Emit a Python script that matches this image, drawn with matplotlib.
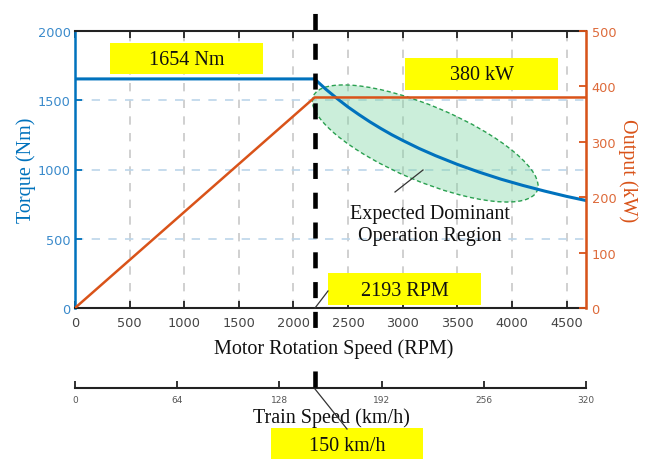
import matplotlib.pyplot as plt
from matplotlib.patches import Ellipse, Rectangle
from matplotlib.lines import Line2D
from matplotlib.transforms import ScaledTranslation, blended_transform_factory

# Motor characteristic
speed_rpm = [0, 2193, 2300, 2400, 2500, 2600, 2700, 2800, 2900, 3000, 3150, 3300, 3500,
             3700, 3900, 4100, 4300, 4500, 4678]
torque_nm = [1654, 1654, 1577, 1512, 1451, 1396, 1344, 1296, 1251, 1210, 1152, 1100, 1037,
             981, 930, 885, 844, 806, 776]
power_speed = [0, 2193, 4678]
power_kw = [0, 380, 380]

base_speed = 2193
base_train_speed = 150
rpm_ticks = [0, 500, 1000, 1500, 2000, 2500, 3000, 3500, 4000, 4500]
train_ticks = [0, 64, 128, 192, 256, 320]

blue = '#0072BD'
orange = '#D95319'
W, H = 651, 460


def fx(x):
    return x / W


def fy(y):
    return 1 - y / H


fig = plt.figure(figsize=(W / 100, H / 100), dpi=100)
left, right, top, bottom = 75, 586, 32, 309
ax = fig.add_axes([fx(left), fy(bottom), fx(right - left), (bottom - top) / H])
ax2 = ax.twinx()

# grid: grey verticals, light blue horizontals
ax.set_axisbelow(True)
ax.grid(axis='x', color='#c8c8c8', linestyle=(0, (5, 5)), linewidth=1.2)
ax.grid(axis='y', color='#bcd6ea', linestyle=(0, (5, 5)), linewidth=1.2)

ax.plot(speed_rpm, torque_nm, color=blue, linewidth=2.2, zorder=3)
ax2.plot(power_speed, power_kw, color=orange, linewidth=1.8, zorder=3)

ax.set_xlim(0, 4678)
ax.set_ylim(0, 2000)
ax2.set_ylim(0, 500)
ax.set_xticks(rpm_ticks)
ax.set_yticks([0, 500, 1000, 1500, 2000])
ax2.set_yticks([0, 100, 200, 300, 400, 500])

ax.tick_params(axis='x', direction='in', top=True, length=5, width=1.3, color='#222222',
               labelcolor='#444444', labelsize=9.3, pad=6)
ax.tick_params(axis='y', direction='in', length=5, width=1.3, color=blue,
               labelcolor='#3a8acb', labelsize=9.3, pad=3)
ax2.tick_params(axis='y', direction='in', length=5, width=1.3, color=orange,
                labelcolor='#dd6a3a', labelsize=9.3, pad=4)

for s in ['top', 'bottom']:
    ax.spines[s].set_color('#222222')
    ax.spines[s].set_linewidth(1.5)
ax.spines['left'].set_color(blue)
ax.spines['left'].set_linewidth(1.8)
ax2.spines['right'].set_color(orange)
ax2.spines['right'].set_linewidth(1.8)
ax2.spines['left'].set_visible(False)
ax2.spines['top'].set_visible(False)
ax2.spines['bottom'].set_visible(False)

serif = 'Liberation Serif'
fs = 14.5
ax.set_ylabel('Torque (Nm)', family=serif, fontsize=fs, color=blue)
ax.yaxis.set_label_coords((36 - left) / (right - left), 0.5)
ax2.set_ylabel('Output (kW)', family=serif, fontsize=fs, color=orange, rotation=270,
               va='center')
ax2.yaxis.set_label_coords((628 - left) / (right - left), 0.5)

# expected dominant operation region
region_tf = fig.dpi_scale_trans + ScaledTranslation(3206, 1188, ax.transData)
ax.add_patch(Ellipse((0, 0), width=2.43, height=0.75, angle=-22.9, transform=region_tf,
                     facecolor='#7fd6a4', alpha=0.4, edgecolor='none', zorder=2))
ax.add_patch(Ellipse((0, 0), width=2.43, height=0.75, angle=-22.9, transform=region_tf,
                     facecolor='none', edgecolor='#2aa050', linestyle=(0, (3, 2)),
                     linewidth=1.0, zorder=2.5))
ax.text(3251, 606, 'Expected Dominant\nOperation Region', family=serif, fontsize=fs,
        ha='center', va='center', linespacing=1.22, color='#111111', zorder=4)

# train speed axis underneath
ax3 = fig.add_axes([fx(left), fy(389), fx(right - left), 1e-5])
ax3.patch.set_visible(False)
for s in ['top', 'left', 'right']:
    ax3.spines[s].set_visible(False)
ax3.spines['bottom'].set_linewidth(1.5)
ax3.spines['bottom'].set_color('#222222')
ax3.set_yticks([])
ax3.set_xlim(0, 320)
ax3.set_xticks(train_ticks)
ax3.tick_params(axis='x', direction='in', length=5, width=1.3, color='#222222',
                labelcolor='#555555', labelsize=6.5, pad=5)

# axis titles below the plot sit on a white ground over the base speed marker
fig.text(fx(334), fy(349), 'Motor Rotation Speed (RPM)', family=serif, fontsize=fs,
         ha='center', va='center', color='#111111', zorder=4,
         bbox=dict(facecolor='white', edgecolor='none', pad=0))
fig.text(fx(331), fy(418), 'Train Speed (km/h)', family=serif, fontsize=fs,
         ha='center', va='center', color='#111111', zorder=4)

# base speed marker
marker_tf = blended_transform_factory(ax.transData, fig.transFigure)
fig.add_artist(Line2D([base_speed, base_speed], [fy(388), fy(8)], transform=marker_tf,
                      color='black', linewidth=3.3, linestyle=(0, (3.5, 3.0)), zorder=3))

# yellow callouts
callouts = [
    ((110, 44, 263, 75), '1654 Nm'),
    ((405, 59, 558, 91), '380 kW'),
    ((328, 274, 481, 306), '2193 RPM'),
    ((271, 429, 423, 462), f'{base_train_speed} km/h'),
]
for (x0, y0, x1, y1), label in callouts:
    fig.patches.append(Rectangle((fx(x0), fy(y1)), fx(x1 - x0), (y1 - y0) / H,
                                 transform=fig.transFigure, facecolor='#ffff00',
                                 edgecolor='none', zorder=5))
    fig.text(fx((x0 + x1) / 2), fy((y0 + y1) / 2 + 1), label, family=serif, fontsize=fs,
             ha='center', va='center', color='#111111', zorder=6)

# leader lines
for (xa, ya), (xb, yb) in [((315, 309), (328, 292)),
                           ((315, 390), (347, 430)),
                           ((395, 193), (423, 171))]:
    fig.add_artist(Line2D([fx(xa), fx(xb)], [fy(ya), fy(yb)], transform=fig.transFigure,
                          color='#333333', linewidth=0.9, zorder=7))

plt.savefig('out.png', dpi=100)
